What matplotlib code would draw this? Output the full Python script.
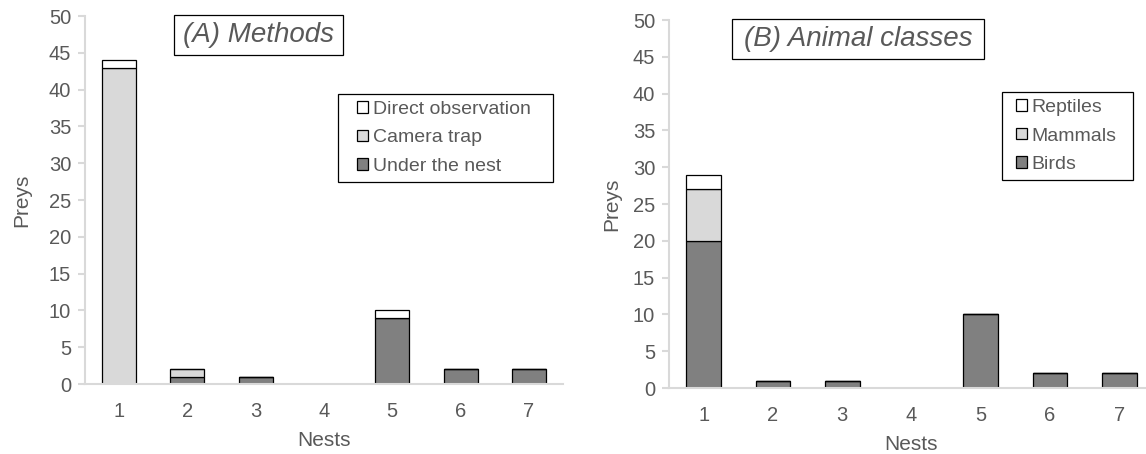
import matplotlib
matplotlib.use("Agg")
import matplotlib.pyplot as plt
from matplotlib.patches import Rectangle

plt.rcParams['font.family'] = ['Liberation Sans', 'DejaVu Sans']

nests = ["1", "2", "3", "4", "5", "6", "7"]

# Panel A: methods
under_nest = [0, 1, 1, 0, 9, 2, 2]
camera_trap = [43, 1, 0, 0, 0, 0, 0]
direct_obs = [1, 0, 0, 0, 1, 0, 0]

# Panel B: animal classes
birds = [20, 1, 1, 0, 10, 2, 2]
mammals = [7, 0, 0, 0, 0, 0, 0]
reptiles = [2, 0, 0, 0, 0, 0, 0]

W, H = 1146, 454
fig = plt.figure(figsize=(W / 100, H / 100), dpi=100)

TXT = '#595959'
SPINE = '#D9D9D9'
C_WHITE, C_LIGHT, C_DARK = '#FFFFFF', '#D9D9D9', '#808080'


def px_rect(x0, y0, x1, y1):
    return [x0 / W, 1 - y1 / H, (x1 - x0) / W, (y1 - y0) / H]


def fig_box(box, z=5):
    x0, y0, x1, y1 = box
    fig.patches.append(Rectangle((x0 / W, 1 - y1 / H), (x1 - x0) / W, (y1 - y0) / H,
                                 transform=fig.transFigure, facecolor='white',
                                 edgecolor='black', linewidth=0.9, zorder=z))


def draw_panel(ax, series, labels, colors, title, title_box, leg_box, ylab_px, leg_left):
    x = list(range(1, len(nests) + 1))
    bottom = [0] * len(nests)
    handles = []
    for vals, lab, col in zip(series, labels, colors):
        h = ax.bar(x, vals, width=0.5, bottom=bottom, color=col,
                   edgecolor='black', linewidth=0.9, label=lab)
        handles.append(h)
        bottom = [b + v for b, v in zip(bottom, vals)]
    ax.set_xlim(0.5, 7.5)
    ax.set_ylim(0, 50)
    ax.set_yticks(range(0, 51, 5))
    ax.set_xticks(x)
    ax.set_xticklabels(nests)
    for s in ['top', 'right']:
        ax.spines[s].set_visible(False)
    for s in ['left', 'bottom']:
        ax.spines[s].set_color(SPINE)
        ax.spines[s].set_linewidth(1.5)
    ax.tick_params(axis='y', colors=SPINE, labelcolor=TXT, labelsize=14.5,
                   length=5, width=1.5, pad=5)
    ax.tick_params(axis='x', length=0, labelcolor=TXT, labelsize=14.5, pad=13)
    ax.set_ylabel('Preys', fontsize=15, color=TXT)
    ax.set_xlabel('Nests', fontsize=15, color=TXT, labelpad=7)
    bb = ax.get_position()
    ax.yaxis.set_label_coords((ylab_px / W - bb.x0) / bb.width, 0.5)

    # title box
    fig_box(title_box)
    x0, y0, x1, y1 = title_box
    fig.text((x0 + x1) / 2 / W, 1 - (y0 + y1) / 2 / H, title, fontsize=20,
             style='italic', color=TXT, ha='center', va='center', zorder=6)

    # legend (frame drawn separately)
    lx0, ly0, lx1, ly1 = leg_box
    fig_box(leg_box, z=4)
    leg = fig.legend(handles[::-1], labels[::-1], loc='center left',
                     bbox_to_anchor=(leg_left / W, 1 - (ly0 + ly1) / 2 / H),
                     bbox_transform=fig.transFigure, frameon=False, fontsize=14,
                     handlelength=0.55, handleheight=0.55, handletextpad=0.25,
                     labelspacing=0.6, borderpad=0, borderaxespad=0)
    leg.set_zorder(6)
    for t in leg.get_texts():
        t.set_color(TXT)


axA = fig.add_axes(px_rect(85, 16, 563, 384))
draw_panel(axA, [under_nest, camera_trap, direct_obs],
           ['Under the nest', 'Camera trap', 'Direct observation'],
           [C_DARK, C_LIGHT, C_WHITE], '(A) Methods',
           (174, 15, 343, 55), (338, 94, 553, 182), 31, 357)

axB = fig.add_axes(px_rect(669, 20, 1154, 388))
draw_panel(axB, [birds, mammals, reptiles],
           ['Birds', 'Mammals', 'Reptiles'],
           [C_DARK, C_LIGHT, C_WHITE], '(B) Animal classes',
           (732, 19, 984, 59), (1002, 92, 1133, 180), 621, 1016)

fig.savefig('out.png', dpi=100)
